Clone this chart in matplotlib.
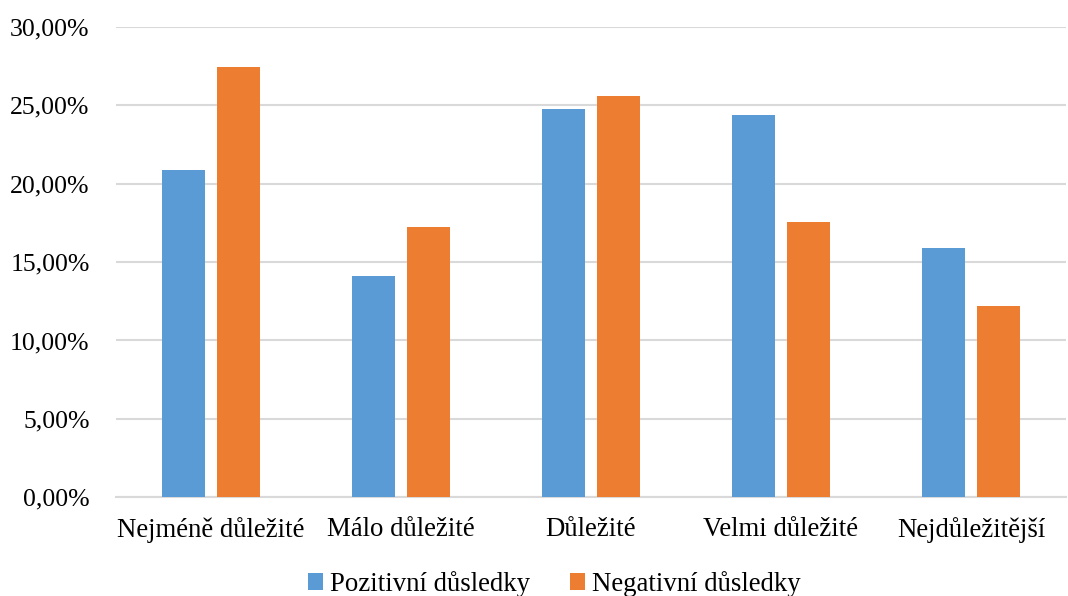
import numpy as np
import matplotlib.pyplot as plt
from matplotlib.ticker import FuncFormatter

categories = ['Nejméně důležité', 'Málo důležité', 'Důležité', 'Velmi důležité', 'Nejdůležitější']
pozitivni = [20.86, 14.14, 24.75, 24.39, 15.92]
negativni = [27.43, 17.26, 25.60, 17.54, 12.22]
series_names = ['Pozitivní důsledky', 'Negativní důsledky']

plt.rcParams['font.family'] = ['Liberation Serif', 'DejaVu Serif']

fig = plt.figure(figsize=(10.68, 5.96), dpi=100)
ax = fig.add_axes([0.1086, 0.1656, 0.8894, 0.7894])

x = np.arange(len(categories))
w = 0.226
gap = 0.06
ax.bar(x - (w + gap) / 2, pozitivni, w, color='#5B9BD5', label=series_names[0], zorder=3)
ax.bar(x + (w + gap) / 2, negativni, w, color='#ED7D31', label=series_names[1], zorder=3)

ax.set_xlim(-0.5, len(categories) - 0.5)
ax.set_ylim(0, 30)
ax.set_yticks(np.arange(0, 31, 5))
ax.yaxis.set_major_formatter(FuncFormatter(lambda v, p: f'{v:.2f}%'.replace('.', ',')))
ax.set_xticks(x)
ax.set_xticklabels(categories)

ax.grid(axis='y', color='#d9d9d9', linewidth=1.5, zorder=0)
for s in ['top', 'right', 'left']:
    ax.spines[s].set_visible(False)
ax.spines['bottom'].set_color('#d9d9d9')
ax.spines['bottom'].set_linewidth(1.5)
ax.tick_params(length=0, colors='black')
ax.tick_params(axis='y', pad=19, labelsize=18.5)
ax.tick_params(axis='x', pad=14, labelsize=19.3)

fig.legend(loc='center', bbox_to_anchor=(0.519, 0.02), ncol=2, frameon=False,
           fontsize=19.3, handlelength=0.55, handleheight=0.55, handletextpad=0.27,
           columnspacing=1.5)

fig.savefig('out.png', dpi=100)
